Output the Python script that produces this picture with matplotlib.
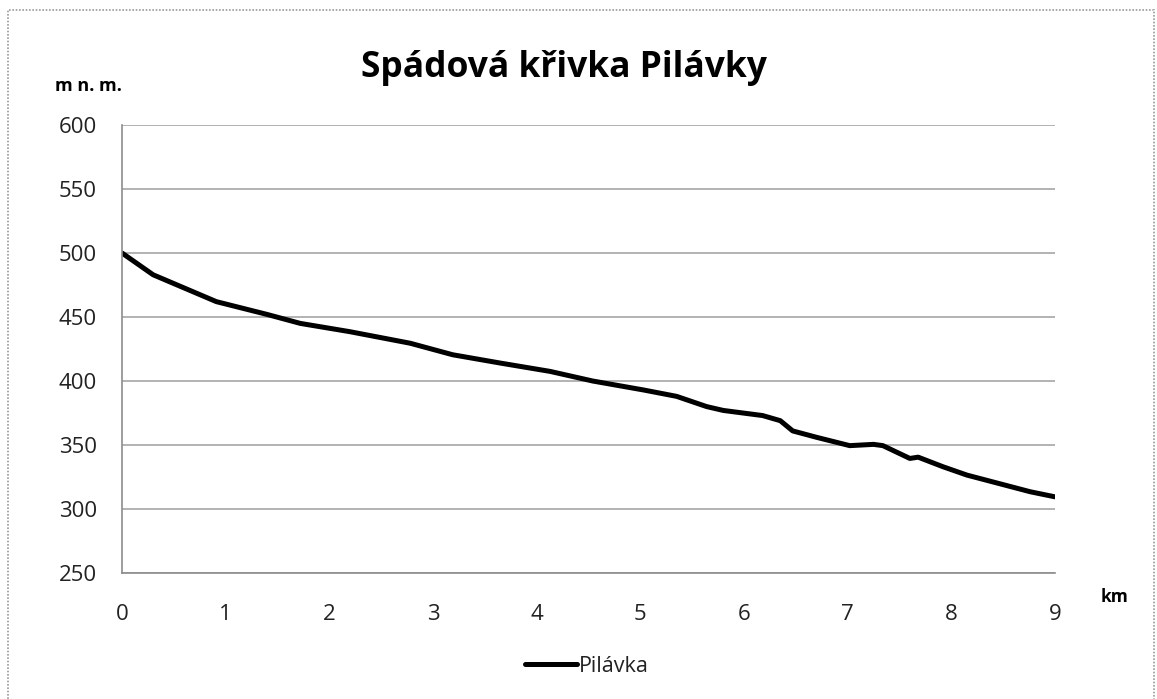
import matplotlib
matplotlib.use("Agg")
import matplotlib.pyplot as plt
from matplotlib.patches import Rectangle

plt.rcParams['font.family'] = ['Open Sans', 'DejaVu Sans']

km = [0, 0.30, 0.91, 1.40, 1.72, 2.20, 2.78, 3.19, 3.65, 4.13, 4.54, 5.03,
      5.35, 5.64, 5.80, 6.18, 6.35, 6.47, 6.70, 7.02, 7.25, 7.34, 7.60, 7.68,
      7.92, 8.15, 8.76, 9.0]
elev = [500, 483, 462, 452, 445, 438.5, 429.5, 420.5, 414, 407.5, 400, 393,
        388, 380, 377, 373, 369, 361, 356, 349.5, 350.5, 349.5, 339.5, 340.5,
        333, 326.5, 313.5, 309.5]
x_ticks = [0, 1, 2, 3, 4, 5, 6, 7, 8, 9]
y_ticks = [250, 300, 350, 400, 450, 500, 550, 600]
title = "Spádová křivka Pilávky"
series_name = "Pilávka"

W, H = 1157, 699
fig = plt.figure(figsize=(W / 100, H / 100), dpi=100)
ax = fig.add_axes([122 / W, (H - 573) / H, (1055 - 122) / W, (573 - 125) / H])

ax.plot(km, elev, color='black', lw=3.6, solid_capstyle='round',
        solid_joinstyle='round', label=series_name)

ax.set_xlim(0, 9)
ax.set_ylim(250, 600)
ax.set_xticks(x_ticks)
ax.set_yticks(y_ticks)
ax.yaxis.grid(True, color='#a6a6a6', lw=1.2)
ax.set_axisbelow(True)
for s in ['top', 'right']:
    ax.spines[s].set_visible(False)
for s in ['left', 'bottom']:
    ax.spines[s].set_color('#8c8c8c')
    ax.spines[s].set_linewidth(1.2)
ax.tick_params(length=0, labelsize=16, labelcolor='#222222')
ax.tick_params(axis='y', pad=18)
ax.tick_params(axis='x', pad=22)

fig.text(564 / W, 1 - 68 / H, title, ha='center', va='center',
         fontsize=25.5, fontweight='bold', color='black')
fig.text(88 / W, 1 - 86 / H, "m n. m.", ha='center', va='center',
         fontsize=13, fontweight='bold', color='black')
fig.text(1115 / W, 1 - 597 / H, "km", ha='center', va='center',
         fontsize=12.5, fontweight='bold', color='black')

leg = fig.legend(loc='center', bbox_to_anchor=(587 / W, 1 - 666 / H),
                 frameon=False, fontsize=15.5, handlelength=2.4,
                 handletextpad=0.1, labelcolor='#222222')

fig.patches.append(Rectangle((8 / W, -0.05), (1154 - 8) / W, 1 - 10 / H + 0.05,
                             transform=fig.transFigure, fill=False,
                             edgecolor='#9a9a9a', lw=1.2, ls=(0, (1, 1))))

fig.savefig("out.png", dpi=100)
